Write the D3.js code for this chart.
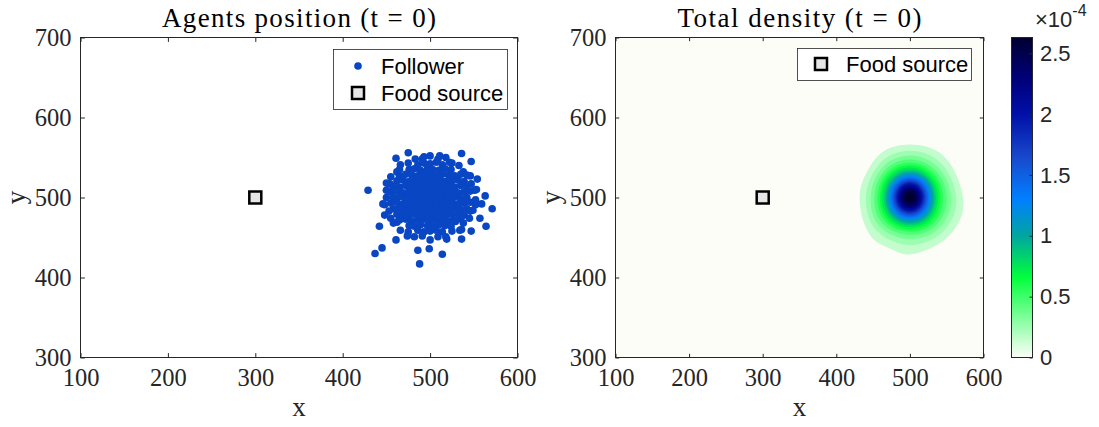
<!DOCTYPE html>
<html><head><meta charset="utf-8">
<script src="https://cdn.jsdelivr.net/npm/d3@7"></script>
<style>body{margin:0;background:#fff} svg{display:block}</style>
</head><body>
<svg id="chart" width="1099" height="427"></svg>
<script>
// ---------- DATA ----------
const coreGrid = [
 [486,541],[493,543],[500,542],[507,544],[514,541],
 [476,535],[482,536],[489,534],[497,536],[503,535],[510,534],[517,536],[524,535],
 [465,527],[472,529],[479,528],[486,527],[493,529],[500,528],[507,527],[514,529],[521,528],[528,527],[535,529],
 [462,521],[469,522],[476,520],[483,521],[490,522],[497,520],[504,521],[511,522],[518,520],[525,521],[532,522],[539,520],
 [458,514],[465,513],[472,515],[479,514],[486,513],[493,515],[500,514],[507,513],[514,515],[521,514],[528,513],[535,515],[542,514],
 [455,507],[462,508],[469,506],[476,507],[483,508],[490,506],[497,507],[504,508],[511,506],[518,507],[525,508],[532,506],[539,507],[546,508],
 [458,500],[465,501],[472,499],[479,500],[486,501],[493,499],[500,500],[507,501],[514,499],[521,500],[528,501],[535,499],[542,500],
 [455,493],[462,494],[469,492],[476,493],[483,494],[490,492],[497,493],[504,494],[511,492],[518,493],[525,494],[532,492],[539,493],[546,494],
 [458,486],[465,487],[472,485],[479,486],[486,487],[493,485],[500,486],[507,487],[514,485],[521,486],[528,487],[535,485],[542,486],
 [462,479],[469,480],[476,478],[483,479],[490,480],[497,478],[504,479],[511,480],[518,478],[525,479],[532,480],[539,478],
 [465,472],[472,473],[479,471],[486,472],[493,473],[500,471],[507,472],[514,473],[521,471],[528,472],[535,473],
 [476,465],[482,464],[489,466],[497,465],[503,464],[510,466],[517,465],[524,464],
 [486,459],[493,457],[500,458],[507,459],[514,457]
];
const coreCentre = [
 [500,500],[495,503],[505,497],[498,508],[502,492],[509,503],[491,497],[504,510],[496,490],[510,494],
 [489,505],[501,504],[494,496],[507,507],[499,495],[512,500],[488,500],[503,488],[497,512],[506,491],
 [493,509],[508,513],[490,490],[514,507],[486,494],
 [501,499],[497,501],[503,503],[499,497],[496,506],[504,494],[506,500],[494,500],[500,506],[500,493],
 [502,501],[498,499],[504,505],[496,495],[506,503],[494,504],[503,496],[497,506],[508,498],[492,500],
 [500,510],[500,490],[511,506],[489,495],[505,509],[495,491],[510,491],[490,508],[507,494],[493,506],
 [501,503],[499,496],[503,499],[497,503],[505,501],[495,498],[502,507],[498,493],[509,500],[491,502],
 [504,488],[496,512],[512,496],[488,504],[506,511],[494,489],[513,503],[487,497],[501,513],[499,487],
 [512,508],[488,492],[508,486],[492,514],[516,498],[484,502],[503,516],[497,484],[514,490],[486,510],
 [506,515],[494,485],[517,505],[483,495],[509,482],[491,518],[515,512],[485,488],[502,518],[498,482],
 [511,513],[489,487],[518,494],[482,506],[505,483],[495,517],[513,485],[487,515],[519,501],[481,499],
 [507,517],[493,483],[516,509],[484,491],[510,488],[490,512],[504,514],[496,486],[514,503],[486,497],
 [501,511],[499,489],[511,497],[489,503],[506,509],[494,491],[508,492],[492,508],[503,505],[497,495],
 [515,494],[485,506],[500,516],[500,484],[512,504],[488,496],[507,498],[493,502],[504,507],[496,493]
];
const coreMiddle = [
 [520,505],[518,488],[480,508],[482,490],[500,522],[502,478],[515,520],[485,518],[516,482],[484,482],
 [525,498],[475,500],[500,527],[498,474],[522,515],[478,517],[521,484],[479,485],[510,525],[490,525],
 [511,476],[489,476],[527,508],[473,492],[507,480],[493,522],[524,492],[476,510]
];
const edgeRing = [
 [552,497],[551,509],[547,517],[546,527],[538,532],[533,540],[525,543],[518,550],[509,548],[500,552],
 [491,548],[483,548],[475,543],[466,541],[462,532],[455,526],[454,517],[450,509],[450,500],[448,491],
 [453,483],[455,474],[462,469],[466,459],[475,457],[482,451],[491,452],[500,447],[509,451],[518,451],
 [525,458],[534,459],[538,468],[545,474],[546,483],[552,491]
];
const outliers = [
 [429,509],[461,549],[475,556],[536,555],[547,545],[511,552],[493,551],[522,544],[554,523],[563,502],
 [571,486],[564,464],[557,474],[547,458],[536,448],[514,429],[488,417],[437,430],[445,437],[461,447],
 [474,452],[486,434],[499,436],[442,464],[448,478],[446,492],[450,518],[465,535],[553,510],[559,492],
 [549,484],[536,460],[529,470],[519,448],[458,468],[465,474],[542,528]
];
const followers = [].concat(coreGrid, coreCentre, coreMiddle, edgeRing, outliers);
const foodSource = [[300, 500]];
const xTicks = [100, 200, 300, 400, 500, 600];
const yTicks = [300, 400, 500, 600, 700];
const cbTicks = [0, 0.5, 1, 1.5, 2, 2.5];
const cbMax = 2.63;           // x 1e-4
const cbExponent = "-4";
const titles = ["Agents position (t = 0)", "Total density (t = 0)"];
const legendLeft = ["Follower", "Food source"];
const legendRight = ["Food source"];
const colorStops = [[0,'#fdfdf8'],[0.66,'#00ff3c'],[1.0,'#00a5a0'],[1.3,'#0080ff'],[1.65,'#1848cc'],[2.0,'#0010a8'],[2.3,'#000078'],[2.63,'#000030']];

// ---------- LAYOUT ----------
const svg = d3.select('#chart');
const axisColor = '#262626';
const serif = "'Liberation Serif','Times New Roman',serif";
const sans = "'Liberation Sans',Arial,Helvetica,sans-serif";
const dotColor = '#0846c4';
const P1 = {x0:80.5, x1:517.5, y0:37.5, y1:357.5};
const P2 = {x0:615.5, x1:983.5, y0:37.5, y1:357.5};
const CB = {x0:1011.5, x1:1032.5, y0:37.5, y1:357.5};

const x1s = d3.scaleLinear().domain([100,600]).range([P1.x0,P1.x1]);
const y1s = d3.scaleLinear().domain([300,700]).range([P1.y1,P1.y0]);
const x2s = d3.scaleLinear().domain([100,600]).range([P2.x0,P2.x1]);
const y2s = d3.scaleLinear().domain([300,700]).range([P2.y1,P2.y0]);
const color = d3.scaleLinear().domain(colorStops.map(d=>d[0])).range(colorStops.map(d=>d[1]))
  .interpolate(d3.interpolateRgb).clamp(true);

const defs = svg.append('defs');
defs.append('clipPath').attr('id','clip2').append('rect')
  .attr('x',P2.x0).attr('y',P2.y0).attr('width',P2.x1-P2.x0).attr('height',P2.y1-P2.y0);
defs.append('clipPath').attr('id','clip1').append('rect')
  .attr('x',P1.x0).attr('y',P1.y0).attr('width',P1.x1-P1.x0).attr('height',P1.y1-P1.y0);

svg.append('rect').attr('x',P1.x0).attr('y',P1.y0).attr('width',P1.x1-P1.x0).attr('height',P1.y1-P1.y0).attr('fill','#fff');
svg.append('rect').attr('x',P2.x0).attr('y',P2.y0).attr('width',P2.x1-P2.x0).attr('height',P2.y1-P2.y0).attr('fill',color(0));

// ---------- LEFT: scatter ----------
const g1 = svg.append('g').attr('clip-path','url(#clip1)');
g1.selectAll('circle').data(followers).join('circle')
  .attr('cx',d=>x1s(d[0])).attr('cy',d=>y1s(d[1])).attr('r',3.8).attr('fill',dotColor);

function foodMarker(g, x, y) {
  g.append('rect').attr('x',x-6).attr('y',y-6).attr('width',12).attr('height',12)
    .attr('fill','#e6e6e6').attr('stroke','#000').attr('stroke-width',2.5);
}
foodSource.forEach(d => foodMarker(svg, x1s(d[0]), y1s(d[1])));

// ---------- RIGHT: density (kernel density of the follower positions) ----------
const BW = 13;
const levels = d3.range(0.1, 2.65, 0.1);
const dens = d3.contourDensity().x(d=>d[0]).y(d=>d[1]).size([600,700]).cellSize(2)
  .bandwidth(BW).weight(1/followers.length).thresholds(levels.map(v=>v*1e-4))(followers);
const proj = d3.geoTransform({point(x,y){ this.stream.point(x2s(x), y2s(y)); }});
const gpath = d3.geoPath(proj);
const g2 = svg.append('g').attr('clip-path','url(#clip2)');
g2.selectAll('path').data(dens).join('path')
  .attr('d', gpath).attr('fill', d => color(d.value*1e4 + 0.05)).attr('stroke','none');
foodSource.forEach(d => foodMarker(svg, x2s(d[0]), y2s(d[1])));

// ---------- AXES ----------
function drawAxes(P, xs, ys, tl) {
  const g = svg.append('g');
  g.append('g').attr('transform',`translate(0,${P.y1})`)
    .call(d3.axisBottom(xs).tickValues(xTicks).tickSizeInner(-tl).tickSizeOuter(0).tickPadding(11));
  g.append('g').attr('transform',`translate(0,${P.y0})`)
    .call(d3.axisTop(xs).tickValues(xTicks).tickSizeInner(-tl).tickSizeOuter(0).tickFormat(''));
  g.append('g').attr('transform',`translate(${P.x0},0)`)
    .call(d3.axisLeft(ys).tickValues(yTicks).tickSizeInner(-tl).tickSizeOuter(0).tickPadding(9));
  g.append('g').attr('transform',`translate(${P.x1},0)`)
    .call(d3.axisRight(ys).tickValues(yTicks).tickSizeInner(-tl).tickSizeOuter(0).tickFormat(''));
  g.selectAll('.domain').remove();
  g.selectAll('.tick line').attr('stroke',axisColor);
  g.selectAll('.tick text').attr('font-family',serif).attr('font-size',24.5).attr('fill','#262626');
  g.append('rect').attr('x',P.x0).attr('y',P.y0).attr('width',P.x1-P.x0).attr('height',P.y1-P.y0)
    .attr('fill','none').attr('stroke',axisColor).attr('stroke-width',1);
  const cx = (P.x0+P.x1)/2, cy = (P.y0+P.y1)/2;
  g.append('text').attr('x',cx).attr('y',416).attr('text-anchor','middle')
    .attr('font-family',serif).attr('font-size',27).attr('fill','#262626').text('x');
  g.append('text').attr('transform',`translate(${P.x0-56},${cy}) rotate(-90)`).attr('text-anchor','middle')
    .attr('font-family',serif).attr('font-size',27).attr('fill','#262626').text('y');
}
drawAxes(P1, x1s, y1s, 4.4);
drawAxes(P2, x2s, y2s, 3.7);

[[titles[0], P1, 274],[titles[1], P2, 244]].forEach(([t,P,len]) => {
  svg.append('text').attr('x',(P.x0+P.x1)/2).attr('y',27).attr('text-anchor','middle')
    .attr('font-family',serif).attr('font-size',27).attr('fill','#000')
    .attr('textLength',len).attr('lengthAdjust','spacing').text(t);
});

// ---------- LEGENDS ----------
function legendBox(x,y,w,h){
  svg.append('rect').attr('x',x).attr('y',y).attr('width',w).attr('height',h)
    .attr('fill','#fff').attr('stroke',axisColor).attr('stroke-width',0.8);
}
legendBox(333.5,49.5,174,60);
svg.append('circle').attr('cx',358).attr('cy',66).attr('r',3.8).attr('fill',dotColor);
foodMarker(svg, 358, 93);
legendLeft.forEach((t,i)=>{
  svg.append('text').attr('x',381).attr('y',74+i*27).attr('font-family',sans).attr('font-size',22).attr('fill','#000').text(t);
});
legendBox(797.5,48.5,174,32);
foodMarker(svg, 821, 64);
legendRight.forEach((t,i)=>{
  svg.append('text').attr('x',846).attr('y',72).attr('font-family',sans).attr('font-size',22).attr('fill','#000').text(t);
});

// ---------- COLORBAR ----------
const grad = defs.append('linearGradient').attr('id','cbgrad').attr('x1',0).attr('y1',1).attr('x2',0).attr('y2',0);
colorStops.forEach(s => grad.append('stop').attr('offset', s[0]/cbMax).attr('stop-color', s[1]));
svg.append('rect').attr('x',CB.x0).attr('y',CB.y0).attr('width',CB.x1-CB.x0).attr('height',CB.y1-CB.y0)
  .attr('fill','url(#cbgrad)');
const cbs = d3.scaleLinear().domain([0,cbMax]).range([CB.y1,CB.y0]);
const gcb = svg.append('g').attr('transform',`translate(${CB.x1},0)`)
  .call(d3.axisRight(cbs).tickValues(cbTicks).tickSizeInner(-3).tickSizeOuter(0).tickPadding(7.5).tickFormat(d=>String(d)));
gcb.select('.domain').remove();
gcb.selectAll('.tick line').attr('stroke',axisColor);
gcb.selectAll('.tick text').attr('font-family',sans).attr('font-size',22).attr('fill','#262626');
svg.append('rect').attr('x',CB.x0).attr('y',CB.y0).attr('width',CB.x1-CB.x0).attr('height',CB.y1-CB.y0)
  .attr('fill','none').attr('stroke',axisColor).attr('stroke-width',1);
const ex = svg.append('text').attr('x',1035).attr('y',27).attr('font-family',sans).attr('font-size',22).attr('fill','#262626');
ex.append('tspan').text('\u00d710');
ex.append('tspan').attr('dy',-11).attr('font-size',16).text(cbExponent);
</script>
</body></html>
